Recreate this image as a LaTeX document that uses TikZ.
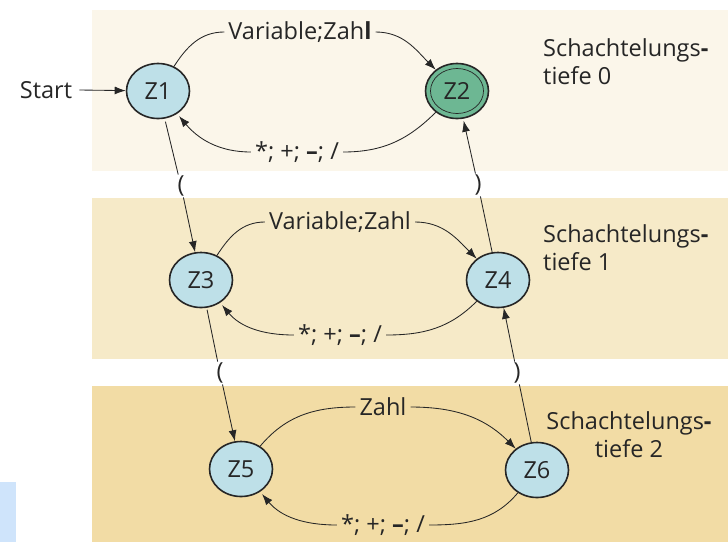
\documentclass[tikz,border=0pt]{standalone}
\usepackage{fontspec}
\setmainfont{Open Sans}
\usetikzlibrary{arrows.meta,shapes.geometric}
\definecolor{bandA}{HTML}{FBF6EA}
\definecolor{bandB}{HTML}{F6EAC8}
\definecolor{bandC}{HTML}{F2DCA5}
\definecolor{sideblue}{HTML}{CFE4FB}
\definecolor{stfill}{HTML}{BEE0E8}
\definecolor{endfill}{HTML}{6DB793}
\definecolor{ink}{HTML}{262626}
\begin{document}
\begin{tikzpicture}[x=1pt,y=-1pt,
  font=\fontsize{23.5}{28}\selectfont,
  state/.style={ellipse, draw=ink, line width=1.6pt, fill=stfill, minimum width=63pt, minimum height=55pt, inner sep=0pt, text=ink},
  lbl/.style={inner sep=4pt, text=ink},
  plbl/.style={inner sep=1pt, text=ink},
  conn/.style={draw=ink, line width=0.85pt},
  arr/.style={conn, -{Latex[length=11pt,width=8pt]}},
  depth/.style={inner sep=0pt, text=ink}]
\useasboundingbox (0,0) rectangle (728,542);
% bands
\fill[bandA] (92,10) rectangle (728,171);
\fill[bandB] (92,198) rectangle (728,359);
\fill[bandC] (92,386) rectangle (728,542);
\fill[sideblue] (0,482) rectangle (16,542);
% states
\node[state] (z1) at (158,91) {Z1};
\node[state, fill=endfill] (z2) at (457,91) {Z2};
\draw[ink, line width=0.7pt] (z2.center) ellipse (26.5pt and 22.5pt);
\node[state] (z3) at (201,280) {Z3};
\node[state] (z4) at (498,280) {Z4};
\node[state] (z5) at (241,469) {Z5};
\node[state] (z6) at (537,470) {Z6};
% start
\node[lbl, inner sep=0pt] (start) at (46,90) {Start};
\draw[arr] ([xshift=7pt]start.east) -- (z1);
% band 0
\node[lbl] (t0) at (300,32) {Variable;Zah\textbf{l}};
\node[lbl] (b0) at (297,152) {*; +; \textbf{–}; /};
\draw[conn] (z1) to[out=57,in=180] (t0);
\draw[arr] (t0) to[out=0,in=135] (z2);
\draw[conn] (z2) to[out=-135,in=0] (b0);
\draw[arr, shorten >=3pt] (b0) to[out=180,in=-50] (z1);
% band 1
\node[lbl] (t1) at (340,222) {Variable;Zahl};
\node[lbl] (b1) at (340,335) {*; +; \textbf{–}; /};
\draw[conn] (z3) to[out=57,in=180] (t1);
\draw[arr] (t1) to[out=0,in=135] (z4);
\draw[conn] (z4) to[out=-135,in=0] (b1);
\draw[arr, shorten >=3pt] (b1) to[out=180,in=-50] (z3);
% band 2
\node[lbl] (t2) at (383,407) {Zahl};
\node[lbl] (b2) at (383,525) {*; +; \textbf{–}; /};
\draw[conn] (z5) to[out=50,in=180] (t2);
\draw[arr] (t2) to[out=0,in=135] (z6);
\draw[conn] (z6) to[out=-130,in=0] (b2);
\draw[arr, shorten >=3pt] (b2) to[out=180,in=-50] (z5);
% vertical transitions
\node[plbl] (p1) at (181,186) {(};
\node[plbl] (p2) at (478,185) {)};
\node[plbl] (p3) at (220,373) {(};
\node[plbl] (p4) at (517,373) {)};
\draw[conn, shorten <=3pt] (z1) -- (p1);
\draw[arr] (p1) -- (z3);
\draw[conn] (z4) -- (p2);
\draw[arr, shorten >=2pt] (p2) -- (z2);
\draw[conn, shorten <=2pt] (z3) -- (p3);
\draw[arr] (p3) -- (z5);
\draw[conn] (z6) -- (p4);
\draw[arr] (p4) -- (z4);
% depth labels
\node[depth, anchor=west, align=left] (d0) at (543,62) {Schachtelungs\textbf{-}\\tiefe 0};
\node[depth, anchor=west, align=left] (d1) at (543,248) {Schachtelungs\textbf{-}\\tiefe 1};
\node[depth, align=center] (d2) at (629,435) {Schachtelungs\textbf{-}\\tiefe 2};
\end{tikzpicture}
\end{document}
